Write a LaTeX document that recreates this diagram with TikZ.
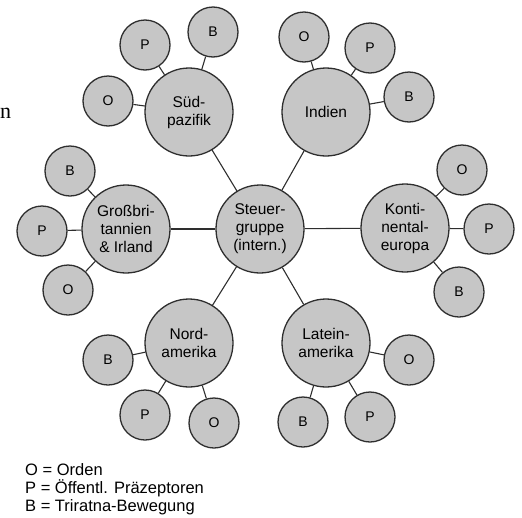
\documentclass[tikz,border=0pt]{standalone}
\usepackage{fontspec}
\setsansfont{Liberation Sans}
\newfontfamily\serifn{Liberation Serif}
\definecolor{cfill}{HTML}{C6C6C6}
\definecolor{cline}{HTML}{2E2E2E}
\begin{document}
\begin{tikzpicture}[x=1pt,y=-1pt,
  bigc/.style={circle,draw=cline,line width=1.3pt,fill=cfill,minimum size=88pt,inner sep=0pt,align=center,font=\sffamily\fontsize{15.5}{18}\selectfont},
  smallc/.style={circle,draw=cline,line width=1.3pt,fill=cfill,minimum size=50pt,inner sep=0pt,font=\sffamily\fontsize{14}{16}\selectfont},
  conn/.style={draw=cline,line width=1.1pt},
  legend/.style={anchor=base west,inner sep=0pt,font=\sffamily\fontsize{16.5}{18}\selectfont}]
\useasboundingbox (0,0) rectangle (522,517);
% main circles
\node[bigc] (st) at (260,229) {Steuer-\\gruppe\\(intern.)};
\node[bigc] (sp) at (189,112) {Süd-\\pazifik};
\node[bigc] (in) at (326,112) {Indien};
\node[bigc] (gb) at (126,229) {Großbri-\\tannien\\\& Irland};
\node[bigc] (ke) at (405,228) {Konti-\\nental-\\europa};
\node[bigc] (na) at (189,343) {Nord-\\amerika};
\node[bigc] (la) at (326,343) {Latein-\\amerika};
% small circles
\node[smallc] (spP) at (145,45) {P};
\node[smallc] (spB) at (213,32) {B};
\node[smallc] (spO) at (108,101) {O};
\node[smallc] (inO) at (304,37) {O};
\node[smallc] (inP) at (370,48) {P};
\node[smallc] (inB) at (409,97) {B};
\node[smallc] (keO) at (462,170) {O};
\node[smallc] (keP) at (489,229) {P};
\node[smallc] (keB) at (459,292) {B};
\node[smallc] (gbB) at (70,171) {B};
\node[smallc] (gbP) at (42,231) {P};
\node[smallc] (gbO) at (68,290) {O};
\node[smallc] (naB) at (108,360) {B};
\node[smallc] (naP) at (145,415) {P};
\node[smallc] (naO) at (214,423) {O};
\node[smallc] (laO) at (409,360) {O};
\node[smallc] (laB) at (303,422) {B};
\node[smallc] (laP) at (370,417) {P};
% connectors
\foreach \a in {sp,in,gb,ke,na,la} \draw[conn] (st) -- (\a);
\foreach \a/\b in {sp/spP,sp/spB,sp/spO,in/inO,in/inP,in/inB,ke/keO,ke/keP,ke/keB,gb/gbB,gb/gbP,gb/gbO,na/naB,na/naP,na/naO,la/laO,la/laB,la/laP}
  \draw[conn] (\a) -- (\b);
% stray letter
\node[anchor=base west,inner sep=0pt,font=\serifn\fontsize{22}{24}\selectfont] (nn) at (0,118) {n};
% legend
\node[legend] (l1) at (25,475) {O = Orden};
\node[legend] (l2) at (25,493) {P = Öffentl. Präzeptoren};
\node[legend] (l3) at (25,511) {B = Triratna-Bewegung};
\end{tikzpicture}
\end{document}
